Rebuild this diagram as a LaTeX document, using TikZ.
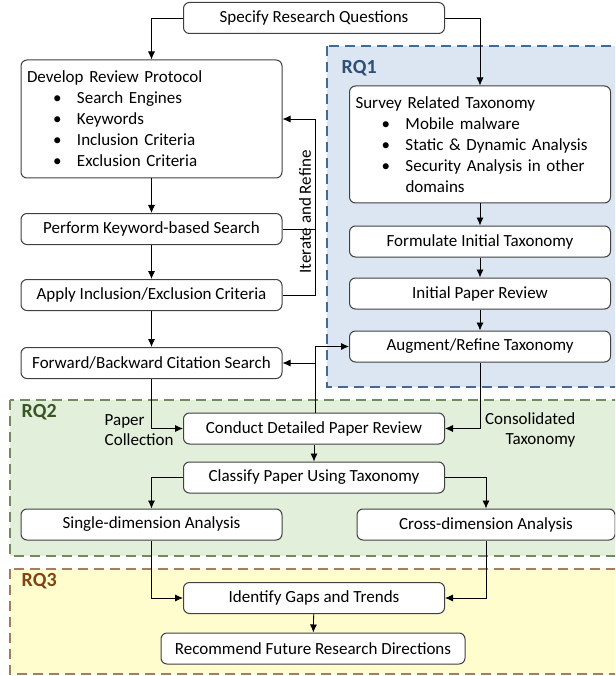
\documentclass[tikz,border=0pt]{standalone}
\usepackage{fontspec}
\setmainfont{Carlito}
\usetikzlibrary{arrows.meta}

\definecolor{rqblue}{RGB}{220,230,242}
\definecolor{rqblueline}{RGB}{68,106,148}
\definecolor{rqbluetext}{RGB}{46,80,118}
\definecolor{rqgreen}{RGB}{226,239,218}
\definecolor{rqgreenline}{RGB}{112,140,94}
\definecolor{rqgreentext}{RGB}{56,86,35}
\definecolor{rqyellow}{RGB}{255,252,206}
\definecolor{rqyellowline}{RGB}{166,124,92}
\definecolor{rqyellowtext}{RGB}{132,66,20}
\definecolor{boxline}{RGB}{64,64,64}

% bullet line inside a box
\newcommand{\bul}[1]{\hspace*{26pt}\makebox[24pt][l]{\textbullet}#1}

\begin{document}
\begin{tikzpicture}[x=1pt,y=-1pt,line width=0.8pt,>={Latex[length=8pt,width=7pt]},
  font=\fontsize{17}{21}\selectfont,
  box/.style={draw=boxline,line width=1pt,fill=white,rounded corners=6pt,
    minimum width=261pt,minimum height=31pt,inner sep=0pt,align=center},
  listbox/.style={box,align=left,text width=249pt,inner sep=6pt},
  region/.style={line width=1.4pt,dash pattern=on 10pt off 6pt},
  rqlabel/.style={font=\fontsize{20}{22}\selectfont\bfseries,anchor=west},
  note/.style={font=\fontsize{17}{20}\selectfont}]
  \clip (0,0) rectangle (615,676);
  % research question areas
  \draw[region,fill=rqblue,draw=rqblueline] (327,46) rectangle (640,387);
  \draw[region,fill=rqgreen,draw=rqgreenline] (10,400) rectangle (640,556);
  \draw[region,fill=rqyellow,draw=rqyellowline] (10,569) rectangle (640,674);
  \node[rqlabel,text=rqbluetext] (rq1) at (338,68) {RQ1};
  \node[rqlabel,text=rqgreentext] (rq2) at (18,412) {RQ2};
  \node[rqlabel,text=rqyellowtext] (rq3) at (18,581) {RQ3};

  % left column
  \node[box] (specify) at (314,18) {Specify Research Questions};
  \node[listbox,minimum height=118pt] (develop) at (151.5,119) {Develop Review Protocol\\
    \bul{Search Engines}\\ \bul{Keywords}\\ \bul{Inclusion Criteria}\\ \bul{Exclusion Criteria}};
  \node[box] (perform) at (151.5,229) {Perform Keyword-based Search};
  \node[box] (apply) at (151.5,295) {Apply Inclusion/Exclusion Criteria};
  \node[box] (forward) at (151.5,363) {Forward/Backward Citation Search};

  % RQ1 column
  \node[listbox,minimum height=117pt] (survey) at (480,144.5) {Survey Related Taxonomy\\
    \bul{Mobile malware}\\ \bul{Static \& Dynamic Analysis}\\ \bul{Security Analysis in other}\\
    \hspace*{50pt}domains};
  \node[box] (formulate) at (480,241.5) {Formulate Initial Taxonomy};
  \node[box] (initial) at (480,293.5) {Initial Paper Review};
  \node[box] (augment) at (480,346.5) {Augment/Refine Taxonomy};

  % RQ2 and RQ3
  \node[box] (conduct) at (314,428.5) {Conduct Detailed Paper Review};
  \node[box] (classify) at (314,477.5) {Classify Paper Using Taxonomy};
  \node[box] (single) at (151.5,524.5) {Single-dimension Analysis};
  \node[box,minimum width=258pt] (cross) at (486,524.5) {Cross-dimension Analysis};
  \node[box] (identify) at (314,598) {Identify Gaps and Trends};
  \node[box,minimum width=304pt] (recommend) at (313,648.5) {Recommend Future Research Directions};

  \coordinate (loop) at (315,0);
  \node[note,align=left,anchor=west] (collect) at (101,430) {Paper\\Collection};
  \node[note,align=right,anchor=east] (consol) at (579,430) {Consolidated\\Taxonomy};
  \node[note,rotate=90] (iterate) at (305,212) {Iterate and Refine};

  % connectors
  \draw[->] (specify.west) -| (develop.north);
  \draw[->] (specify.east) -| (survey.north);
  \draw[->] (develop) -- (perform);
  \draw[->] (perform) -- (apply);
  \draw[->] (apply) -- (forward);
  \draw (perform.east) -- (perform.east -| loop);
  \draw[->] (apply.east) -| (develop.east -| loop) -- (develop.east);
  \draw[->] (survey) -- (formulate);
  \draw[->] (formulate) -- (initial);
  \draw[->] (initial) -- (augment);
  \draw[->] (forward.south) |- (conduct.west);
  \draw[->] (conduct.north -| loop) |- (augment.west);
  \draw[->] (forward.east -| loop) -- (forward.east);
  \draw[->] (augment.south) |- (conduct.east);
  \draw[->] (conduct) -- (classify);
  \draw[->] (classify.west) -| (single.north);
  \draw[->] (classify.east) -| (cross.north);
  \draw[->] (single.south) |- (identify.west);
  \draw[->] (cross.south) |- (identify.east);
  \draw[->] (identify) -- (recommend);
\end{tikzpicture}
\end{document}
